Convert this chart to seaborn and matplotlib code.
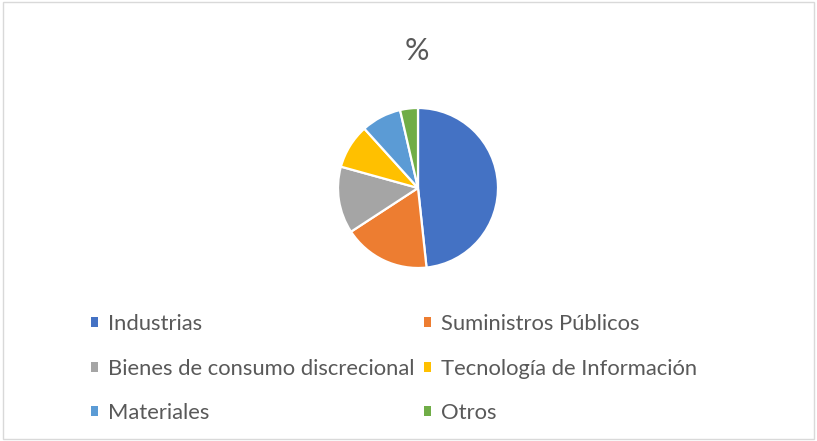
import matplotlib
matplotlib.use("Agg")
import matplotlib.pyplot as plt
from matplotlib.patches import Patch, Rectangle
import seaborn as sns

# Sector weights (%)
sectors = ["Industrias", "Suministros Públicos", "Bienes de consumo discrecional",
           "Tecnología de Información", "Materiales", "Otros"]
weights = [48.3, 17.5, 13.5, 9.0, 8.1, 3.6]
colors = ["#4472C4", "#ED7D31", "#A5A5A5", "#FFC000", "#5B9BD5", "#70AD47"]

sns.set_theme(style="white")
plt.rcParams["font.family"] = ["Lato", "DejaVu Sans"]

fig = plt.figure(figsize=(8.17, 4.41), dpi=100)
fig.patch.set_facecolor("white")

# chart border
fig.add_artist(Rectangle((0.004, 0.004), 0.992, 0.992, transform=fig.transFigure,
                         fill=False, edgecolor="#D9D9D9", linewidth=1))

ax = fig.add_axes([338 / 817, 173 / 441, 160 / 817, 160 / 441])
ax.pie(weights, colors=colors, startangle=90, counterclock=False,
       wedgeprops=dict(edgecolor="white", linewidth=1.6))
ax.set_xlim(-1, 1)
ax.set_ylim(-1, 1)
ax.set_aspect("equal")
ax.axis("off")

fig.text(417 / 817, 1 - 51 / 441, "%", ha="center", va="center",
         fontsize=22, color="#595959")

# legend fills row by row in the reference -> reorder for column-major ncol=2
order = [0, 2, 4, 1, 3, 5]
handles = [Patch(facecolor=colors[i], edgecolor="none") for i in order]
labels = [sectors[i] for i in order]
leg = fig.legend(handles, labels, ncol=2, loc="upper left",
                 bbox_to_anchor=(91 / 817, 1 - 314 / 441), frameon=False,
                 fontsize=15.8, handlelength=0.32, handleheight=0.32,
                 handletextpad=0.45, columnspacing=0.45, labelspacing=1.12,
                 borderpad=0, borderaxespad=0)
for t in leg.get_texts():
    t.set_color("#595959")

fig.savefig("out.png", dpi=100)
